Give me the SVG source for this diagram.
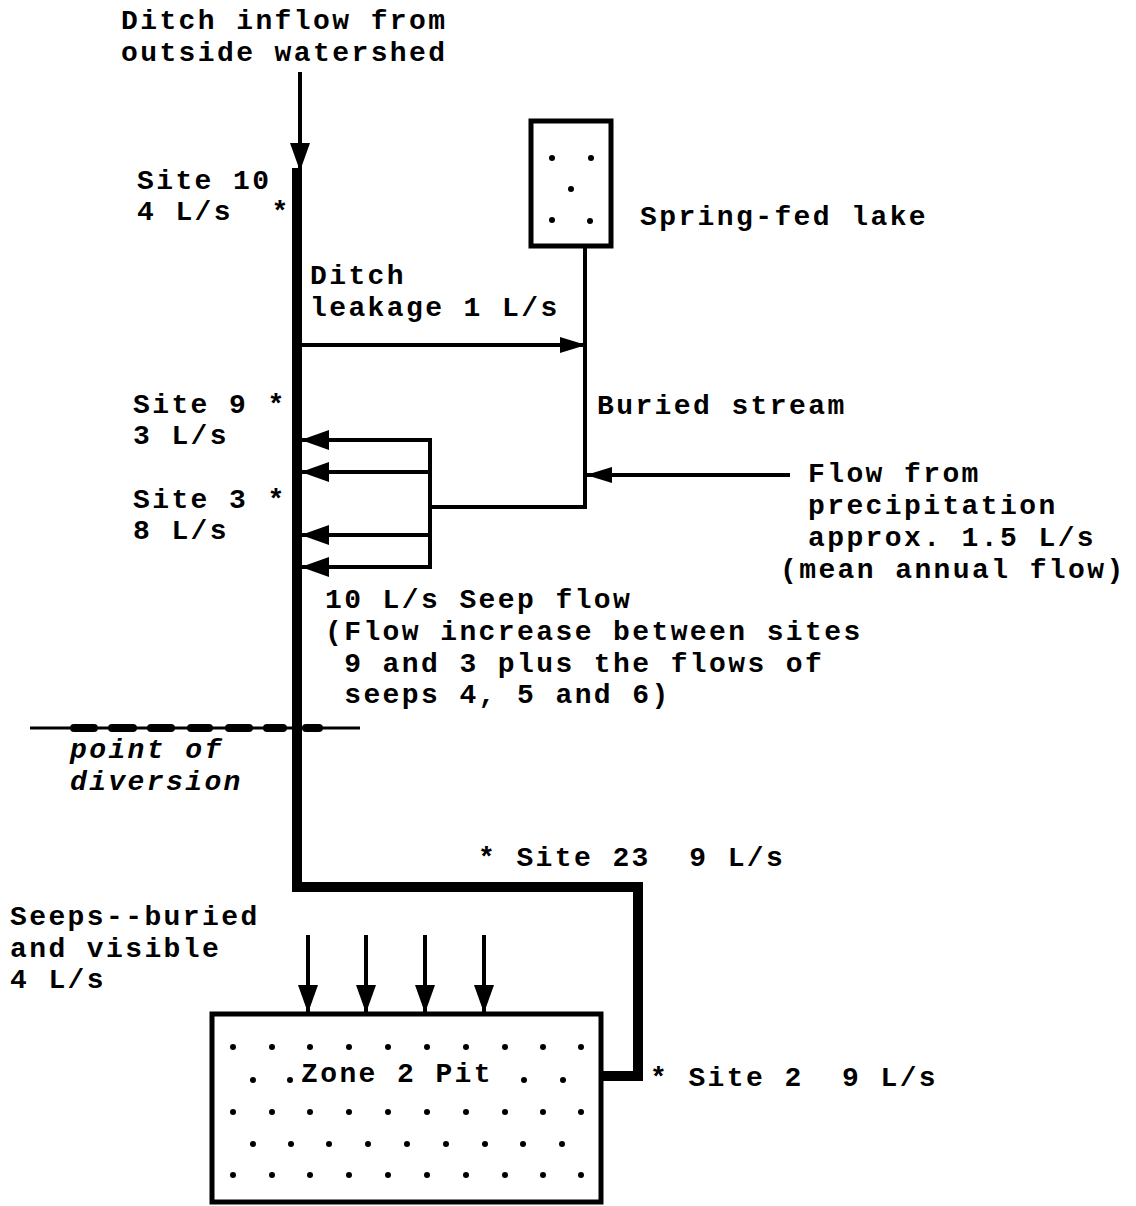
<svg xmlns="http://www.w3.org/2000/svg" width="1136" height="1206" viewBox="0 0 1136 1206" xml:space="preserve">
<style>
text{font-family:"Liberation Mono","DejaVu Sans Mono",monospace;font-weight:bold;font-size:28px;letter-spacing:2.4px;fill:#000;white-space:pre}
.it{font-style:italic}
.ln{fill:none;stroke:#000;stroke-width:4}
.thick{fill:none;stroke:#000;stroke-width:10;stroke-linejoin:miter}
.box{fill:#fff;stroke:#000;stroke-width:5}
.dot{fill:#000}
</style>
<defs>
<marker id="ah" viewBox="0 0 28 20" refX="27" refY="10" markerWidth="28" markerHeight="20" markerUnits="userSpaceOnUse" orient="auto"><path d="M0,0 L28,10 L0,20 Z" fill="#000"/></marker>
<marker id="ahs" viewBox="0 0 26 16" refX="25" refY="8" markerWidth="26" markerHeight="16" markerUnits="userSpaceOnUse" orient="auto"><path d="M0,0 L26,8 L0,16 Z" fill="#000"/></marker>
<circle id="d" r="3" class="dot"/>
</defs>
<rect width="1136" height="1206" fill="#fff"/>

<g id="connectors">
<line class="ln" x1="300" y1="72" x2="300" y2="170" marker-end="url(#ah)"/>
<path class="thick" d="M297,168 V887 H638 V1076 H600"/>
<line class="ln" x1="302" y1="345" x2="585" y2="345" marker-end="url(#ahs)"/>
<path class="ln" d="M585,247 V507 H430"/>
<line class="ln" x1="790" y1="475" x2="587" y2="475" marker-end="url(#ahs)"/>
<path class="ln" d="M430,440 V567"/>
<line class="ln" x1="432" y1="440" x2="302" y2="440" marker-end="url(#ah)"/>
<line class="ln" x1="432" y1="472" x2="302" y2="472" marker-end="url(#ah)"/>
<line class="ln" x1="432" y1="535" x2="302" y2="535" marker-end="url(#ah)"/>
<line class="ln" x1="432" y1="567" x2="302" y2="567" marker-end="url(#ah)"/>
<line class="ln" x1="308" y1="935" x2="308" y2="1012" marker-end="url(#ah)"/>
<line class="ln" x1="366" y1="935" x2="366" y2="1012" marker-end="url(#ah)"/>
<line class="ln" x1="425" y1="935" x2="425" y2="1012" marker-end="url(#ah)"/>
<line class="ln" x1="484" y1="935" x2="484" y2="1012" marker-end="url(#ah)"/>
</g>

<g id="diversion-line">
<line x1="30" y1="728" x2="360" y2="728" stroke="#000" stroke-width="3"/>
<path d="M74,728 H94 M112,728 H133 M151,728 H171 M191,728 H209 M229,728 H249 M267,728 H283 M306,728 H319" stroke="#000" stroke-width="8" stroke-linecap="round"/>
<text class="it" x="70" y="758">point of</text>
<text class="it" x="70" y="790">diversion</text>
</g>

<g id="ditch-inflow">
<text x="121" y="29">Ditch inflow from</text>
<text x="121" y="61">outside watershed</text>
</g>

<g id="site10">
<text x="137" y="189">Site 10</text>
<text x="137" y="220">4 L/s  *</text>
</g>

<g id="lake">
<rect class="box" x="531" y="121" width="80" height="125"/>
<use href="#d" x="552" y="158"/>
<use href="#d" x="591" y="158"/>
<use href="#d" x="571" y="189"/>
<use href="#d" x="552" y="220"/>
<use href="#d" x="590" y="221"/>
<text x="640" y="225">Spring-fed lake</text>
</g>

<g id="ditch-leakage">
<text x="310" y="284">Ditch</text>
<text x="310" y="316">leakage 1 L/s</text>
</g>

<g id="buried-stream">
<text x="597" y="414">Buried stream</text>
</g>

<g id="site9">
<text x="133" y="413">Site 9 *</text>
<text x="133" y="444">3 L/s</text>
</g>

<g id="site3">
<text x="133" y="508">Site 3 *</text>
<text x="133" y="539">8 L/s</text>
</g>

<g id="precipitation">
<text x="808" y="482">Flow from</text>
<text x="808" y="514">precipitation</text>
<text x="808" y="546">approx. 1.5 L/s</text>
<text x="780" y="578">(mean annual flow)</text>
</g>

<g id="seep-flow">
<text x="325" y="608">10 L/s Seep flow</text>
<text x="325" y="640">(Flow increase between sites</text>
<text x="325" y="672"> 9 and 3 plus the flows of</text>
<text x="325" y="703"> seeps 4, 5 and 6)</text>
</g>

<g id="site23">
<text x="478" y="866">* Site 23  9 L/s</text>
</g>

<g id="seeps">
<text x="10" y="925">Seeps--buried</text>
<text x="10" y="957">and visible</text>
<text x="10" y="988">4 L/s</text>
</g>

<g id="pit">
<rect class="box" x="212" y="1014" width="389" height="188"/>
<g id="pit-dots">
<use href="#d" x="233" y="1047"/><use href="#d" x="272" y="1047"/><use href="#d" x="310" y="1047"/><use href="#d" x="349" y="1047"/><use href="#d" x="388" y="1047"/><use href="#d" x="427" y="1047"/><use href="#d" x="466" y="1047"/><use href="#d" x="505" y="1047"/><use href="#d" x="543" y="1047"/><use href="#d" x="581" y="1047"/>
<use href="#d" x="253" y="1080"/><use href="#d" x="290" y="1080"/><use href="#d" x="524" y="1080"/><use href="#d" x="563" y="1080"/>
<use href="#d" x="233" y="1112"/><use href="#d" x="272" y="1112"/><use href="#d" x="310" y="1112"/><use href="#d" x="349" y="1112"/><use href="#d" x="388" y="1112"/><use href="#d" x="427" y="1112"/><use href="#d" x="466" y="1112"/><use href="#d" x="505" y="1112"/><use href="#d" x="543" y="1112"/><use href="#d" x="581" y="1112"/>
<use href="#d" x="253" y="1144"/><use href="#d" x="291" y="1144"/><use href="#d" x="329" y="1144"/><use href="#d" x="368" y="1144"/><use href="#d" x="407" y="1144"/><use href="#d" x="446" y="1144"/><use href="#d" x="485" y="1144"/><use href="#d" x="523" y="1144"/><use href="#d" x="562" y="1144"/>
<use href="#d" x="233" y="1175"/><use href="#d" x="272" y="1175"/><use href="#d" x="310" y="1175"/><use href="#d" x="349" y="1175"/><use href="#d" x="388" y="1175"/><use href="#d" x="427" y="1175"/><use href="#d" x="466" y="1175"/><use href="#d" x="505" y="1175"/><use href="#d" x="543" y="1175"/><use href="#d" x="581" y="1175"/>
</g>
<text x="301" y="1082">Zone 2 Pit</text>
</g>

<g id="site2">
<text x="650" y="1086">* Site 2  9 L/s</text>
</g>
</svg>
